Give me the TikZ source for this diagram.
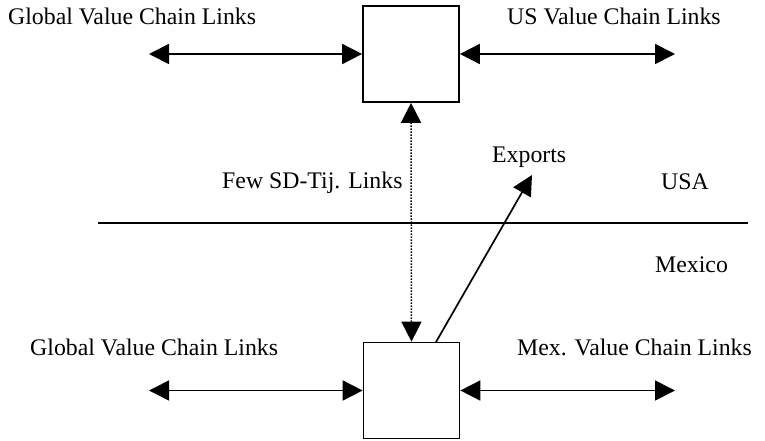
\documentclass[tikz,border=0pt]{standalone}
\usepackage{fontspec}
\setmainfont{Liberation Serif}
\usetikzlibrary{arrows.meta}
\tikzset{
  box/.style={draw, line width=1.7pt, minimum width=96pt, minimum height=96pt, inner sep=0pt},
  link/.style={line width=1.7pt, {Triangle[length=20pt,width=20pt]}-{Triangle[length=20pt,width=20pt]}},
  dotlink/.style={line width=1.5pt, dash pattern=on 1.5pt off 1.5pt, {Triangle[length=20pt,width=20pt]}-{Triangle[length=20pt,width=20pt]}},
  exparrow/.style={line width=1.7pt, -{Triangle[length=20pt,width=20pt]}},
  lbl/.style={anchor=base west, inner sep=0pt, font=\fontsize{23.8}{28}\selectfont},
}
\begin{document}
\begin{tikzpicture}[x=1pt,y=1pt]
\useasboundingbox (0,0) rectangle (765,440);
% boxes
\node[box] (top) at (411,386) {};
\node[box] (bot) at (411.5,49.5) {};
% free ends
\coordinate (tl) at (149,386);
\coordinate (tr) at (675,386);
\coordinate (bl) at (149,49.5);
\coordinate (br) at (675,49.5);
\coordinate (expstart) at (436,98);
\coordinate (exptip) at (532,265);
\coordinate (bordL) at (98,217);
\coordinate (bordR) at (748,217);
% connectors
\draw[link] (tl) -- (top.west);
\draw[link] (top.east) -- (tr);
\draw[link] (bl) -- (bot.west);
\draw[link] (bot.east) -- (br);
\draw[dotlink] (top.south) -- (bot.north);
\draw[exparrow] (expstart) -- (exptip);
\draw[line width=1.7pt] (bordL) -- (bordR);
% labels
\node[lbl] (t1) at (8,415) {Global Value Chain Links};
\node[lbl] (t2) at (507,415) {US Value Chain Links};
\node[lbl] (t3) at (222,252) {Few SD-Tij. Links};
\node[lbl] (t4) at (492,278) {Exports};
\node[lbl] (t5) at (661,251) {USA};
\node[lbl] (t6) at (655,168) {Mexico};
\node[lbl] (t7) at (30,85) {Global Value Chain Links};
\node[lbl] (t8) at (517,85) {Mex. Value Chain Links};
\end{tikzpicture}
\end{document}
